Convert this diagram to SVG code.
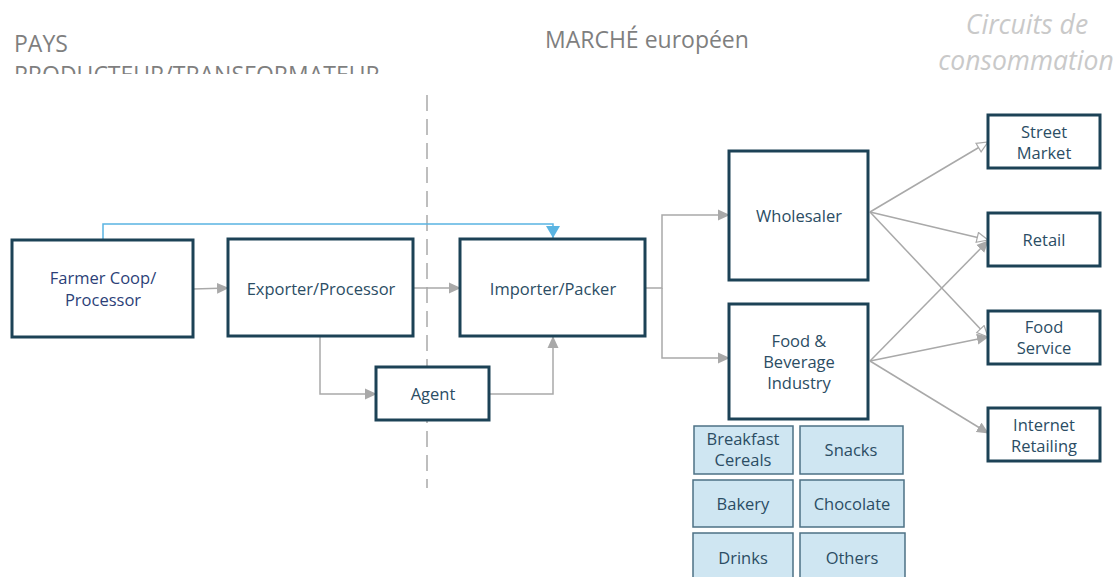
<svg xmlns="http://www.w3.org/2000/svg" width="1115" height="577" viewBox="0 0 1115 577">
<style>
.title{font-family:"Open Sans","Liberation Sans",sans-serif;font-size:23px;fill:#7f7f7f}
.circ{font-family:"Open Sans","Liberation Sans",sans-serif;font-size:26.5px;font-style:italic;fill:#c9c9c9}
.box{fill:#fff;stroke:#1c4256;stroke-width:3}
.sub{fill:#cfe6f2;stroke:#4d7185;stroke-width:1.5}
.lbl{font-family:"Open Sans","Liberation Sans",sans-serif;font-size:16.5px;fill:#2b4d64;text-anchor:middle}
.lblb{font-family:"Open Sans","Liberation Sans",sans-serif;font-size:16.5px;fill:#2c3f78;text-anchor:middle}
.con{fill:none;stroke:#a9a9a9;stroke-width:1.5}
.blue{fill:none;stroke:#5ab4e2;stroke-width:1.5}
</style>
<defs>
<marker id="af" markerWidth="12" markerHeight="12" refX="11" refY="6" orient="auto" markerUnits="userSpaceOnUse" viewBox="0 0 12 12">
<path d="M0,0.5 L12,6 L0,11.5 z" fill="#a9a9a9"/>
</marker>
<marker id="ao" markerWidth="14" markerHeight="12" refX="12" refY="6" orient="auto" markerUnits="userSpaceOnUse" viewBox="0 0 14 12">
<path d="M1,1 L12,6 L1,11 z" fill="#fff" stroke="#a9a9a9" stroke-width="1.2"/>
</marker>
<marker id="ab" markerWidth="13" markerHeight="14" refX="12" refY="7" orient="auto" markerUnits="userSpaceOnUse" viewBox="0 0 13 14">
<path d="M0,0 L12,7 L0,14 z" fill="#5ab4e2"/>
</marker>
<clipPath id="clipT"><rect x="0" y="0" width="500" height="74"/></clipPath>
</defs>

<g id="titles">
<text class="title" x="14" y="52">PAYS</text>
<text class="title" x="14" y="83" clip-path="url(#clipT)">PRODUCTEUR/TRANSFORMATEUR</text>
<text class="title" x="545" y="48">MARCHÉ européen</text>
<text class="circ" x="1027" y="34" text-anchor="middle">Circuits de</text>
<text class="circ" x="1026" y="70" text-anchor="middle">consommation</text>
</g>

<line x1="427" y1="95" x2="427" y2="488" stroke="#a9a9a9" stroke-width="1.5" stroke-dasharray="16,8"/>

<g id="connectors">
<path class="con" d="M193,289 L228,288" marker-end="url(#af)"/>
<path class="con" d="M413,288 L460,288" marker-end="url(#af)"/>
<path class="con" d="M320,336 L320,394 L376,394" marker-end="url(#af)"/>
<path class="con" d="M489,394 L553,394 L553,337" marker-end="url(#af)"/>
<path class="blue" d="M103,239 L103,224 L553,224 L553,238" marker-end="url(#ab)"/>
<path class="con" d="M645,288 L662,288 L662,215 L729,215" marker-end="url(#af)"/>
<path class="con" d="M662,288 L662,358 L729,358" marker-end="url(#af)"/>
<path class="con" d="M870,212 L988,142" marker-end="url(#ao)"/>
<path class="con" d="M870,212 L988,240" marker-end="url(#ao)"/>
<path class="con" d="M870,212 L988,337" marker-end="url(#ao)"/>
<path class="con" d="M870,361 L988,241" marker-end="url(#af)"/>
<path class="con" d="M870,361 L988,337" marker-end="url(#af)"/>
<path class="con" d="M870,361 L988,433" marker-end="url(#af)"/>
</g>

<g id="farmer"><rect class="box" x="12" y="240" width="181" height="97"/>
<text class="lblb" x="103" y="284">Farmer Coop/</text><text class="lblb" x="103" y="306">Processor</text></g>
<g id="exporter"><rect class="box" x="228" y="239" width="185" height="97"/>
<text class="lbl" x="321" y="295">Exporter/Processor</text></g>
<g id="importer"><rect class="box" x="460" y="239" width="185" height="97"/>
<text class="lbl" x="553" y="295">Importer/Packer</text></g>
<g id="agent"><rect class="box" x="376" y="367" width="113" height="53"/>
<text class="lbl" x="433" y="400">Agent</text></g>
<g id="wholesaler"><rect class="box" x="729" y="151" width="139" height="129"/>
<text class="lbl" x="799" y="222">Wholesaler</text></g>
<g id="fnb"><rect class="box" x="729" y="304" width="139" height="115"/>
<text class="lbl" x="799" y="347">Food &amp;</text><text class="lbl" x="799" y="368">Beverage</text><text class="lbl" x="799" y="389">Industry</text></g>
<g id="street"><rect class="box" x="988" y="115" width="112" height="53"/>
<text class="lbl" x="1044" y="138">Street</text><text class="lbl" x="1044" y="159">Market</text></g>
<g id="retail"><rect class="box" x="988" y="213" width="112" height="53"/>
<text class="lbl" x="1044" y="246">Retail</text></g>
<g id="foodservice"><rect class="box" x="988" y="311" width="112" height="53"/>
<text class="lbl" x="1044" y="333">Food</text><text class="lbl" x="1044" y="354">Service</text></g>
<g id="internet"><rect class="box" x="988" y="408" width="112" height="53"/>
<text class="lbl" x="1044" y="431">Internet</text><text class="lbl" x="1044" y="452">Retailing</text></g>

<g id="breakfast"><rect class="sub" x="694" y="426" width="99" height="48"/>
<text class="lbl" x="743" y="445">Breakfast</text><text class="lbl" x="743" y="466">Cereals</text></g>
<g id="snacks"><rect class="sub" x="800" y="426" width="103" height="48"/>
<text class="lbl" x="851" y="456">Snacks</text></g>
<g id="bakery"><rect class="sub" x="693" y="480" width="100" height="47"/>
<text class="lbl" x="743" y="510">Bakery</text></g>
<g id="chocolate"><rect class="sub" x="800" y="480" width="104" height="47"/>
<text class="lbl" x="852" y="510">Chocolate</text></g>
<g id="drinks"><rect class="sub" x="693" y="533" width="100" height="46"/>
<text class="lbl" x="743" y="564">Drinks</text></g>
<g id="others"><rect class="sub" x="800" y="533" width="105" height="46"/>
<text class="lbl" x="852" y="564">Others</text></g>
</svg>
